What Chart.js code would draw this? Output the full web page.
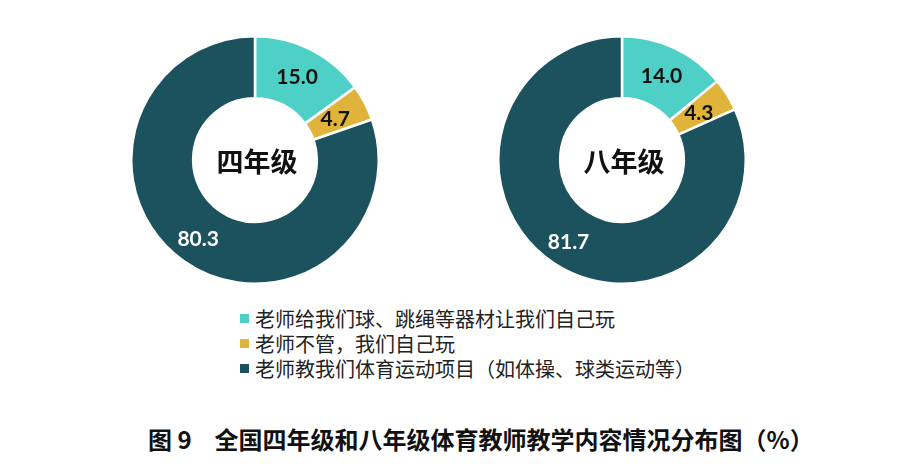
<!DOCTYPE html>
<html>
<head>
<meta charset="utf-8">
<script src="https://cdn.jsdelivr.net/npm/chart.js@4/dist/chart.umd.min.js"></script>
<style>
  body { margin: 0; background: #fff; width: 911px; height: 471px; position: relative; overflow: hidden;
         font-family: "Noto Sans CJK SC", sans-serif; }
  .pie { position: absolute; top: 35px; width: 250px; height: 250px; }
  #legend { position: absolute; left: 240px; top: 306px; font-size: 20px; color: #222; line-height: 25px; }
  #legend div { display: flex; align-items: center; white-space: pre; }
  #legend span.box { width: 9px; height: 9px; margin-right: 6px; display: inline-block; }
  #title { position: absolute; left: 148px; top: 421px; font-weight: bold;
           font-size: 24px; color: #111; white-space: pre; }
  #title span { margin-left: 23px; }
</style>
</head>
<body>
<div class="pie" style="left:130px"><canvas id="pie4"></canvas></div>
<div class="pie" style="left:497px"><canvas id="pie8"></canvas></div>
<div id="legend"></div>
<div id="title">图 9<span>全国四年级和八年级体育教师教学内容情况分布图（%）</span></div>
<script>
const categories = [
    "老师给我们球、跳绳等器材让我们自己玩",
    "老师不管，我们自己玩",
    "老师教我们体育运动项目（如体操、球类运动等）",
];
const grade4 = [15.0, 4.7, 80.3];
const grade8 = [14.0, 4.3, 81.7];
const COLORS = ["#4ed0c6", "#e0b43a", "#1c525e"];
const LABEL_COLORS = ["#111", "#111", "#fff"];

// --- value labels + centre text ---
const labelPlugin = {
    id: "labels",
    afterDatasetsDraw(chart, args, opts) {
        const ctx = chart.ctx;
        const meta = chart.getDatasetMeta(0);
        ctx.save();
        ctx.textAlign = "center";
        ctx.textBaseline = "middle";
        ctx.font = "bold 21px Lato";
        meta.data.forEach((arc, i) => {
            const p = arc.tooltipPosition();
            ctx.fillStyle = LABEL_COLORS[i];
            let dx = 0, dy = 0;
            if (i === 2) { dx = -3; dy = 4; }
            if (i === 1) { dx = -2; dy = 2; }
            ctx.fillText(chart.data.datasets[0].data[i].toFixed(1), p.x + dx, p.y + dy);
        });
        const c = meta.data[0];
        ctx.fillStyle = "#111";
        ctx.font = "bold 27px 'Noto Sans CJK SC'";
        ctx.fillText(opts.center, c.x + 2, c.y + 2);
        ctx.restore();
    },
};

function makePie(id, values, center) {
    return new Chart(document.getElementById(id), {
        type: "doughnut",
        data: {
            labels: categories,
            datasets: [{
                data: values,
                backgroundColor: COLORS,
                borderColor: "#fff",
                borderWidth: 2.5,
            }],
        },
        options: {
            maintainAspectRatio: false,
            animation: false,
            cutout: "50%",
            layout: { padding: 0 },
            plugins: {
                legend: { display: false },
                tooltip: { enabled: false },
                labels: { center },
            },
        },
        plugins: [labelPlugin],
    });
}

makePie("pie4", grade4, "四年级");
makePie("pie8", grade8, "八年级");

const legend = document.getElementById("legend");
categories.forEach((name, i) => {
    const div = document.createElement("div");
    div.innerHTML = `<span class="box" style="background:${COLORS[i]}"></span>${name}`;
    legend.appendChild(div);
});
</script>
</body>
</html>
